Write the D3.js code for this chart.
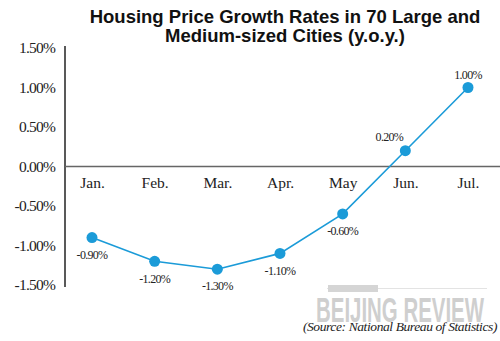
<!DOCTYPE html>
<html>
<head>
<meta charset="utf-8">
<script src="https://cdn.jsdelivr.net/npm/d3@7"></script>
<style>
  html, body { margin: 0; padding: 0; background: #fff; }
  svg { display: block; }
</style>
</head>
<body>
<svg id="chart" width="500" height="341"></svg>
<script>
// Monthly y.o.y. growth of housing prices, 70 large and medium-sized cities
const months = ["Jan.", "Feb.", "Mar.", "Apr.", "May", "Jun.", "Jul."];
const growth = [-0.90, -1.20, -1.30, -1.10, -0.60, 0.20, 1.00];
const valueLabels = ["-0.90%", "-1.20%", "-1.30%", "-1.10%", "-0.60%", "0.20%", "1.00%"];
const yTicks = [1.5, 1.0, 0.5, 0.0, -0.5, -1.0, -1.5];
const yTickLabels = ["1.50%", "1.00%", "0.50%", "0.00%", "-0.50%", "-1.00%", "-1.50%"];

const svg = d3.select("#chart");
const serif = "'Liberation Serif', 'Times New Roman', serif";
const blue = "#1b9bd8";

const x = d3.scalePoint().domain(months).range([92, 468]);
const y = d3.scaleLinear().domain([-1.5, 1.5]).range([285, 48]);

// Title
svg.append("text")
  .attr("x", 285).attr("y", 0)
  .attr("text-anchor", "middle")
  .style("font-family", "'Liberation Sans', Arial, sans-serif")
  .style("font-weight", "bold")
  .style("font-size", "18.5px")
  .style("fill", "#111")
  .selectAll("tspan")
  .data(["Housing Price Growth Rates in 70 Large and", "Medium-sized Cities (y.o.y.)"])
  .join("tspan")
  .attr("x", 285)
  .attr("y", (d, i) => 23 + i * 19)
  .text(d => d);

// Watermark (condensed horizontally to fit its slot)
const wm = svg.append("g").attr("opacity", 0.4);
wm.append("line")
  .attr("x1", 327).attr("x2", 487).attr("y1", 288.5).attr("y2", 288.5)
  .attr("stroke", "#bbb").attr("stroke-width", 1);
wm.append("rect")
  .attr("x", 328).attr("y", 285).attr("width", 50).attr("height", 7)
  .attr("fill", "#999");
const wmText = wm.append("text")
  .attr("x", 0).attr("y", 0)
  .attr("text-anchor", "middle")
  .style("font-family", "'Liberation Sans Narrow', 'Liberation Sans', Arial, sans-serif")
  .style("font-weight", "bold")
  .style("font-size", "35px")
  .style("fill", "#888")
  .text("BEIJING REVIEW");
const natural = wmText.node().getComputedTextLength();
wmText.attr("transform", `translate(400,322) scale(${168 / natural},1)`);

// Y axis with percent tick labels
const yAxis = d3.axisLeft(y)
  .tickValues(yTicks)
  .tickSize(0)
  .tickPadding(10)
  .tickFormat((d, i) => yTickLabels[i]);

const yg = svg.append("g")
  .attr("transform", "translate(65,0)")
  .call(yAxis);
yg.select(".domain").remove();
yg.selectAll("text")
  .style("font-family", serif)
  .style("font-size", "15.5px")
  .style("letter-spacing", "-0.8px")
  .style("fill", "#222");

// Vertical axis line
svg.append("line")
  .attr("x1", 65).attr("x2", 65)
  .attr("y1", 46).attr("y2", 287)
  .attr("stroke", "#222").attr("stroke-width", 1.5);

// Zero baseline
svg.append("line")
  .attr("x1", 65).attr("x2", 500)
  .attr("y1", y(0)).attr("y2", y(0))
  .attr("stroke", "#666").attr("stroke-width", 1.5);

// Month labels under the zero line
const xAxis = d3.axisBottom(x).tickSize(0).tickPadding(0);
const xg = svg.append("g")
  .attr("transform", `translate(0,${y(0) + 10})`)
  .call(xAxis);
xg.select(".domain").remove();
xg.selectAll("text")
  .attr("dy", "0.71em")
  .style("font-family", serif)
  .style("font-size", "15.5px")
  .style("fill", "#222");

// Growth line and markers
const pts = months.map((m, i) => ({ m, v: growth[i], label: valueLabels[i] }));

svg.append("path")
  .datum(pts)
  .attr("fill", "none")
  .attr("stroke", blue)
  .attr("stroke-width", 1.6)
  .attr("d", d3.line().x(d => x(d.m)).y(d => y(d.v)));

svg.selectAll("circle.pt")
  .data(pts)
  .join("circle")
  .attr("class", "pt")
  .attr("cx", d => x(d.m))
  .attr("cy", d => y(d.v))
  .attr("r", 5.5)
  .attr("fill", blue);

// Value labels: below the marker for negatives, above for positives
const labelOffset = { "Jun.": [-16, -14], "Jul.": [0, -13] };
svg.selectAll("text.val")
  .data(pts)
  .join("text")
  .attr("class", "val")
  .attr("x", d => x(d.m) + (labelOffset[d.m] ? labelOffset[d.m][0] : 0))
  .attr("y", d => y(d.v) + (labelOffset[d.m] ? labelOffset[d.m][1] : 17))
  .attr("dy", "0.35em")
  .attr("text-anchor", "middle")
  .style("font-family", serif)
  .style("font-size", "12px")
  .style("letter-spacing", "-0.7px")
  .style("fill", "#222")
  .text(d => d.label);

// Source note
svg.append("text")
  .attr("x", 497).attr("y", 331)
  .attr("text-anchor", "end")
  .style("font-family", serif)
  .style("font-style", "italic")
  .style("font-size", "13.5px")
  .style("letter-spacing", "-0.4px")
  .style("fill", "#222")
  .text("(Source: National Bureau of Statistics)");
</script>
</body>
</html>
